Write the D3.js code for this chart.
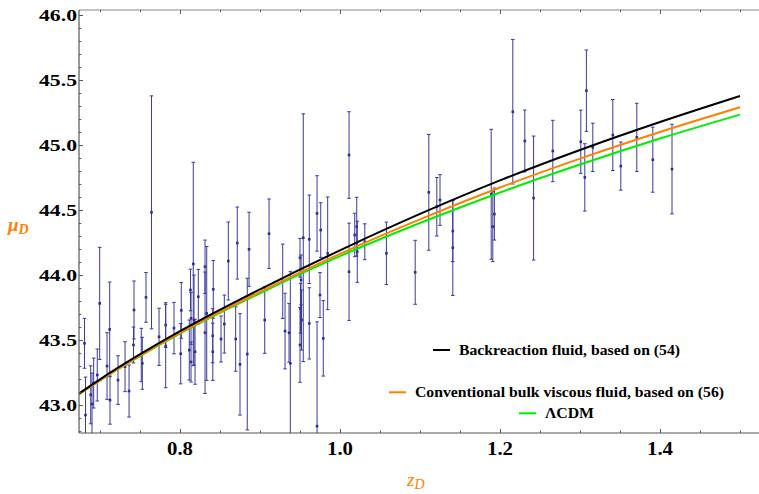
<!DOCTYPE html>
<html><head><meta charset="utf-8">
<script src="https://cdn.jsdelivr.net/npm/d3@7/dist/d3.min.js"></script>
<style>body{margin:0;background:#fff}svg{display:block}</style>
</head><body>
<svg id="c" width="759" height="494"></svg>
<script>
// ---- data ----
const zData = [0.6806,0.6819,0.6884,0.6900,0.6921,0.6966,0.6996,0.7088,0.7121,0.7125,0.7225,0.7313,0.7363,0.7419,0.7425,0.7516,0.7575,0.7644,0.7738,0.7821,0.7821,0.7925,0.8009,0.8016,0.8116,0.8131,0.8166,0.8229,0.8313,0.8313,0.8334,0.8416,0.8409,0.8513,0.8554,0.8604,0.8696,0.8716,0.8750,0.8841,0.8863,0.9059,0.9113,0.9284,0.9313,0.9363,0.9379,0.9500,0.9513,0.9506,0.9519,0.9500,0.9541,0.9616,0.9616,0.9713,0.9713,0.9750,0.9759,0.9791,0.9846,1.0113,1.0113,1.0184,1.0209,1.0216,1.031,1.058,1.094,1.111,1.121,1.125,1.141,1.141,1.189,1.191,1.193,1.216,1.231,1.242,1.266,1.301,1.306,1.308,1.316,1.341,1.351,1.371,1.391,1.415,
  0.7529,0.8138,0.8138,0.8175,0.8188,0.8410];
const muData = [43.475,42.923,43.079,43.008,43.169,43.231,43.782,43.300,43.582,43.038,43.192,43.295,43.108,43.462,43.731,43.385,43.828,44.482,43.525,43.615,43.454,43.592,43.395,43.728,43.423,43.885,44.085,43.833,44.064,43.556,43.705,43.890,43.533,43.508,43.623,44.108,43.508,44.246,43.313,43.392,44.198,43.654,44.318,43.952,43.569,43.556,43.321,44.133,43.962,43.744,43.654,43.462,44.287,44.275,43.628,44.474,42.838,43.846,44.346,43.513,44.167,44.923,44.025,44.308,44.372,44.179,44.256,44.167,44.021,44.636,44.525,44.577,44.338,44.210,44.621,44.372,44.469,45.256,45.031,44.592,44.954,45.025,44.751,45.418,44.982,45.077,44.838,45.059,44.887,44.815,
  43.321,43.331,43.667,43.654,43.410,43.410];
const errData = [0.192,0.292,0.223,0.238,0.192,0.200,0.431,0.256,0.364,0.185,0.187,0.192,0.200,0.138,0.223,0.205,0.191,0.896,0.220,0.172,0.321,0.198,0.232,0.214,0.231,0.160,0.782,0.210,0.205,0.467,0.515,0.222,0.208,0.177,0.223,0.300,0.248,0.277,0.390,0.583,0.285,0.256,0.267,0.286,0.291,0.226,0.705,0.149,0.192,0.192,0.231,0.287,0.953,0.340,0.274,0.290,0.802,0.173,0.210,0.290,0.433,0.333,0.374,0.167,0.226,0.235,0.138,0.240,0.246,0.445,0.225,0.195,0.235,0.367,0.500,0.269,0.200,0.556,0.238,0.477,0.236,0.243,0.259,0.313,0.186,0.273,0.185,0.262,0.250,0.345,
  0.200,0.154,0.200,0.346,0.250,0.220];

const curveZ = [0.674,0.7,0.8,0.9,1.0,1.1,1.2,1.3,1.4,1.5];
const backreaction = [43.090,43.198,43.568,43.890,44.190,44.470,44.728,44.962,45.177,45.377];
const bulkViscous  = [43.085,43.190,43.555,43.870,44.163,44.428,44.673,44.895,45.100,45.290];
const lcdm         = [43.085,43.190,43.550,43.860,44.145,44.400,44.635,44.850,45.050,45.234];

const xMajor = [0.8,1.0,1.2,1.4];
const xMajorLabels = ["0.8","1.0","1.2","1.4"];
const xMinor = [0.7,0.75,0.85,0.9,0.95,1.05,1.1,1.15,1.25,1.3,1.35,1.45,1.5];
const yMajor = [43.0,43.5,44.0,44.5,45.0,45.5,46.0];
const yMajorLabels = ["43.0","43.5","44.0","44.5","45.0","45.5","46.0"];
const yMinor = [42.8,42.9,43.1,43.2,43.3,43.4,43.6,43.7,43.8,43.9,44.1,44.2,44.3,44.4,44.6,44.7,44.8,44.9,45.1,45.2,45.3,45.4,45.6,45.7,45.8,45.9];

const legendLabels = ["Backreaction fluid, based on (54)","Conventional bulk viscous fluid, based on (56)","\u039BCDM"];
const seriesColors = ["#000000","#ff8000","#00ee00"];

// ---- layout ----
const L = 79, T = 10, B = 433, R = 759;
const svg = d3.select("#c");
const x = d3.scaleLinear().domain([0.67375, 1.52375]).range([L, R]);
const y = d3.scaleLinear().domain([42.785, 46.0385]).range([B, T]);

svg.append("rect").attr("width",759).attr("height",494).attr("fill","#fff");
svg.append("defs").append("clipPath").attr("id","clip")
  .append("rect").attr("x",L).attr("y",T).attr("width",R-L).attr("height",B-T);

const plot = svg.append("g").attr("clip-path","url(#clip)");

// error bars
const barColor = "#3a3a9c";
const pts = zData.map((z,i)=>({z, mu:muData[i], e:errData[i]}));
const gb = plot.append("g");
pts.forEach(p=>{
  const px = x(p.z), y1 = y(p.mu+p.e), y2 = y(p.mu-p.e);
  gb.append("line").attr("x1",px).attr("x2",px).attr("y1",y1).attr("y2",y2)
    .attr("stroke",barColor).attr("stroke-width",1);
  [y1,y2].forEach(yy=>gb.append("line").attr("x1",px-1.8).attr("x2",px+1.8).attr("y1",yy).attr("y2",yy)
    .attr("stroke",barColor).attr("stroke-width",1));
  gb.append("rect").attr("x",px-1.3).attr("y",y(p.mu)-1.3).attr("width",2.6).attr("height",2.6)
    .attr("fill","#2e2e8c");
});

// curves
const line = d3.line().x(d=>x(d[0])).y(d=>y(d[1])).curve(d3.curveMonotoneX);
[lcdm, bulkViscous, backreaction].forEach((s,k)=>{
  const col = [seriesColors[2],seriesColors[1],seriesColors[0]][k];
  plot.append("path").datum(curveZ.map((z,i)=>[z,s[i]]))
    .attr("d",line).attr("fill","none").attr("stroke",col).attr("stroke-width",2);
});

// frame
const frameColor = "#555";
svg.append("line").attr("x1",L).attr("x2",R).attr("y1",B).attr("y2",B).attr("stroke",frameColor).attr("stroke-width",1.2);
svg.append("line").attr("x1",L).attr("x2",R).attr("y1",T).attr("y2",T).attr("stroke","#888").attr("stroke-width",1.2);
svg.append("line").attr("x1",L).attr("x2",L).attr("y1",T).attr("y2",B).attr("stroke",frameColor).attr("stroke-width",1.2);

// ticks via axes (inward)
function styleAxis(g){ g.select(".domain").remove(); g.selectAll("line").attr("stroke",frameColor); g.selectAll("text").remove(); }
svg.append("g").attr("transform",`translate(0,${B})`).call(d3.axisBottom(x).tickValues(xMajor).tickSize(-4)).call(styleAxis);
svg.append("g").attr("transform",`translate(0,${B})`).call(d3.axisBottom(x).tickValues(xMinor).tickSize(-2.3)).call(styleAxis);
svg.append("g").attr("transform",`translate(0,${T})`).call(d3.axisTop(x).tickValues(xMajor).tickSize(-4)).call(styleAxis);
svg.append("g").attr("transform",`translate(0,${T})`).call(d3.axisTop(x).tickValues(xMinor).tickSize(-2.3)).call(styleAxis);
svg.append("g").attr("transform",`translate(${L},0)`).call(d3.axisLeft(y).tickValues(yMajor).tickSize(-4)).call(styleAxis);
svg.append("g").attr("transform",`translate(${L},0)`).call(d3.axisLeft(y).tickValues(yMinor).tickSize(-2.3)).call(styleAxis);

// tick labels
const tf = "'Liberation Serif','Times New Roman',serif";
xMajor.forEach((v,i)=>{
  svg.append("text").attr("x",x(v)).attr("y",455).attr("text-anchor","middle")
    .attr("font-family",tf).attr("font-weight","bold").attr("font-size",18)
    .attr("textLength",26).attr("lengthAdjust","spacingAndGlyphs").text(xMajorLabels[i]);
});
yMajor.forEach((v,i)=>{
  svg.append("text").attr("x",77).attr("y",y(v)+6).attr("text-anchor","end")
    .attr("font-family",tf).attr("font-weight","bold").attr("font-size",17)
    .attr("textLength",38).attr("lengthAdjust","spacingAndGlyphs").text(yMajorLabels[i]);
});

// axis labels
const axisCol = "#ff8000";
const yl = svg.append("text").attr("x",8).attr("y",231).attr("font-family",tf).attr("font-style","italic")
  .attr("font-weight","bold").attr("font-size",19).attr("fill",axisCol);
yl.append("tspan").text("\u03BC");
yl.append("tspan").attr("font-size",14).attr("dy",3).text("D");
const xl = svg.append("text").attr("x",407).attr("y",486).attr("font-family",tf).attr("font-style","italic")
  .attr("font-size",19).attr("fill",axisCol);
xl.append("tspan").text("z");
xl.append("tspan").attr("font-size",14).attr("dy",3).text("D");

// legend
const legCx = 556.5;
const legY = [350, 392.3, 413.3];
const legW = [221, 309, 49];
legendLabels.forEach((lab,i)=>{
  const tx0 = legCx - (legW[i]+26)/2;
  svg.append("line").attr("x1",tx0).attr("x2",tx0+17).attr("y1",legY[i]).attr("y2",legY[i])
    .attr("stroke",seriesColors[i]).attr("stroke-width",2);
  svg.append("text").attr("x",tx0+26).attr("y",legY[i]+4.5)
    .attr("font-family",tf).attr("font-weight","bold").attr("font-size",14)
    .attr("textLength",legW[i]).attr("lengthAdjust","spacingAndGlyphs").text(lab);
});
</script>
</body></html>
